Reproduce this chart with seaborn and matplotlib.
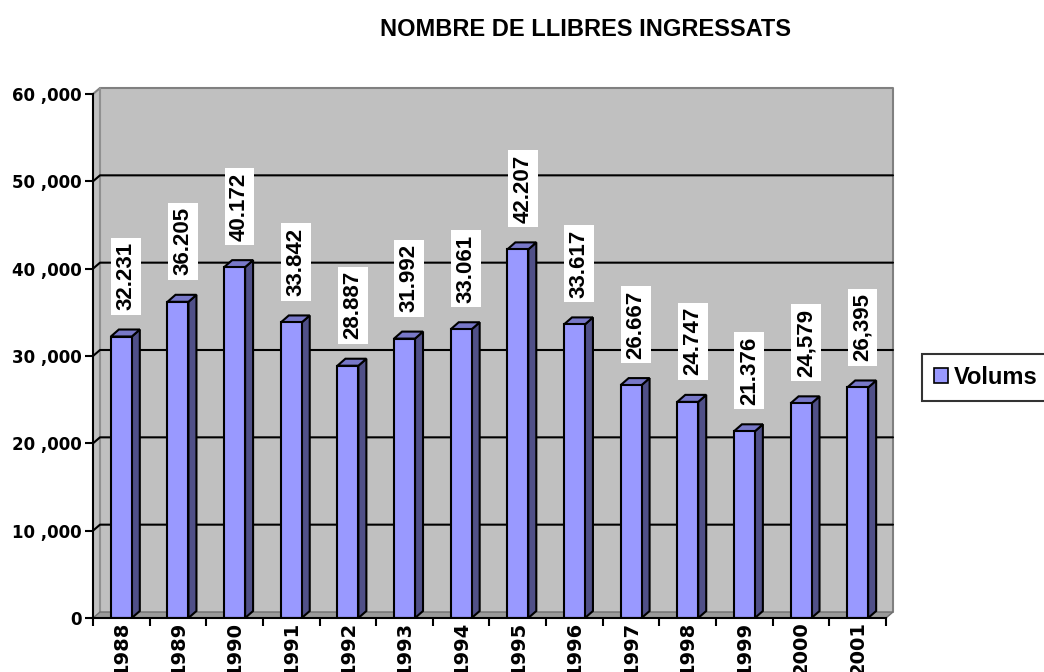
import numpy as np
import pandas as pd
import matplotlib
matplotlib.use("Agg")
import matplotlib.pyplot as plt
from matplotlib.patches import Polygon, Patch
import seaborn as sns

# data
years = ["1988", "1989", "1990", "1991", "1992", "1993", "1994",
         "1995", "1996", "1997", "1998", "1999", "2000", "2001"]
volums = [32231, 36205, 40172, 33842, 28887, 31992, 33061,
          42207, 33617, 26667, 24747, 21376, 24579, 26395]
value_labels = ["32.231", "36.205", "40.172", "33.842", "28.887", "31.992", "33.061",
                "42.207", "33.617", "26.667", "24.747", "21.376", "24,579", "26,395"]
y_ticks = [0, 10000, 20000, 30000, 40000, 50000, 60000]
y_tick_labels = ["0", "10 ,000", "20 ,000", "30 ,000", "40 ,000", "50 ,000", "60 ,000"]

df = pd.DataFrame({"Any": years, "Volums": volums})

sns.set_style("white")
plt.rcParams["font.family"] = ["Liberation Sans", "DejaVu Sans"]
plt.rcParams["text.color"] = "black"
plt.rcParams["xtick.color"] = "black"
plt.rcParams["ytick.color"] = "black"
plt.rcParams["axes.labelcolor"] = "black"

FRONT = "#9999FF"
SIDE = "#505088"
TOP = "#7878C8"
WALL = "#C0C0C0"

fig = plt.figure(figsize=(10.44, 6.72), dpi=100)
ax = fig.add_axes([93 / 1044, 1 - 618 / 672, 793 / 1044, 524 / 672])
ax.set_facecolor(WALL)

sns.barplot(data=df, x="Any", y="Volums", color=FRONT, saturation=1, width=0.37,
            edgecolor="black", linewidth=1.5, ax=ax, zorder=3)
ax.set_xlim(-0.5, len(years) - 0.5)
ax.set_ylim(0, 60000)

# depth of the fake 3d wall, in axes fractions and data units
ox, oy = 7 / 793, 6 / 524
dy_wall = oy * 60000
dx_wall = ox * len(years)

# back wall
ax.add_patch(Polygon([(0, 0), (0, 1), (ox, 1 + oy), (1 + ox, 1 + oy), (1 + ox, oy), (1, 0)],
                     closed=True, transform=ax.transAxes, facecolor=WALL, edgecolor="none",
                     zorder=0.1, clip_on=False))
ax.plot([0, ox, 1 + ox, 1 + ox], [1, 1 + oy, 1 + oy, oy], transform=ax.transAxes,
        color="#808080", lw=1.5, zorder=0.2, clip_on=False)
ax.plot([ox, ox], [oy, 1 + oy], transform=ax.transAxes, color="#909090", lw=1.5,
        zorder=0.2, clip_on=False)

# grid lines on the wall
for v in y_ticks[1:-1]:
    ax.plot([0, ox, 1 + ox], [v, v + dy_wall, v + dy_wall], transform=ax.get_yaxis_transform(),
            color="black", lw=1.5, zorder=0.5, clip_on=False)

# floor
x0, x1 = -0.5, len(years) - 0.5
ax.add_patch(Polygon([(x0, 0), (x1, 0), (x1 + dx_wall, dy_wall), (x0 + dx_wall, dy_wall)],
                     closed=True, facecolor="#9A9A9A", edgecolor="#707070", lw=1,
                     zorder=0.8, clip_on=False))

# side and top faces of each bar
dxb, dyb = 8 / 56.64, 7 / 524 * 60000
for p in ax.patches:
    if p.get_facecolor()[:3] != matplotlib.colors.to_rgb(FRONT):
        continue
    bx, bw, bh = p.get_x(), p.get_width(), p.get_height()
    ax.add_patch(Polygon([(bx + bw, 0), (bx + bw + dxb, dyb), (bx + bw + dxb, bh + dyb), (bx + bw, bh)],
                         closed=True, facecolor=SIDE, edgecolor="black", lw=1.5, zorder=2.9))
    ax.add_patch(Polygon([(bx, bh), (bx + bw, bh), (bx + bw + dxb, bh + dyb), (bx + dxb, bh + dyb)],
                         closed=True, facecolor=TOP, edgecolor="black", lw=1.5, zorder=2.9))

# value labels
for i, (v, lab) in enumerate(zip(volums, value_labels)):
    ax.annotate(lab, xy=(i, v), xytext=(3.5, 19), textcoords="offset points",
                rotation=90, ha="center", va="bottom", fontsize=16, fontweight="bold",
                bbox=dict(boxstyle="square,pad=0.2", facecolor="white", edgecolor="none"),
                zorder=5)

# axes, ticks
for s in ["top", "right"]:
    ax.spines[s].set_visible(False)
for s in ["left", "bottom"]:
    ax.spines[s].set_color("black")
    ax.spines[s].set_linewidth(1.5)
    ax.spines[s].set_zorder(4)

ax.set_yticks(y_ticks)
ax.set_yticklabels(y_tick_labels, family="DejaVu Sans", fontweight="bold", fontsize=12)
ax.tick_params(axis="y", length=6, width=1.5, color="black", pad=2, left=True)

ax.set_xticks(range(len(years)))
ax.set_xticklabels(years, rotation=90, family="DejaVu Sans", fontweight="bold",
                   fontsize=14, va="top")
ax.set_xticks(np.arange(-0.5, len(years)), minor=True)
ax.tick_params(axis="x", which="major", length=0, pad=2)
ax.tick_params(axis="x", which="minor", length=6, width=1.5, color="black", bottom=True)
ax.set_xlabel("")
ax.set_ylabel("")
ax.grid(False)

fig.text(586 / 1044, 1 - 29 / 672, "NOMBRE DE LLIBRES INGRESSATS", ha="center", va="center",
         fontsize=17, fontweight="bold")

handle = Patch(facecolor=FRONT, edgecolor="black", linewidth=1.2, label="Volums")
leg = fig.legend(handles=[handle], loc="upper left", bbox_to_anchor=(922 / 1044, 1 - 354 / 672),
                 prop={"weight": "bold", "size": 17}, frameon=True, fancybox=False,
                 handlelength=0.6, handleheight=0.6, handletextpad=0.25, borderpad=0.5,
                 borderaxespad=0)
leg.get_frame().set_edgecolor("black")
leg.get_frame().set_linewidth(1.5)

fig.savefig("out.png", dpi=100)
